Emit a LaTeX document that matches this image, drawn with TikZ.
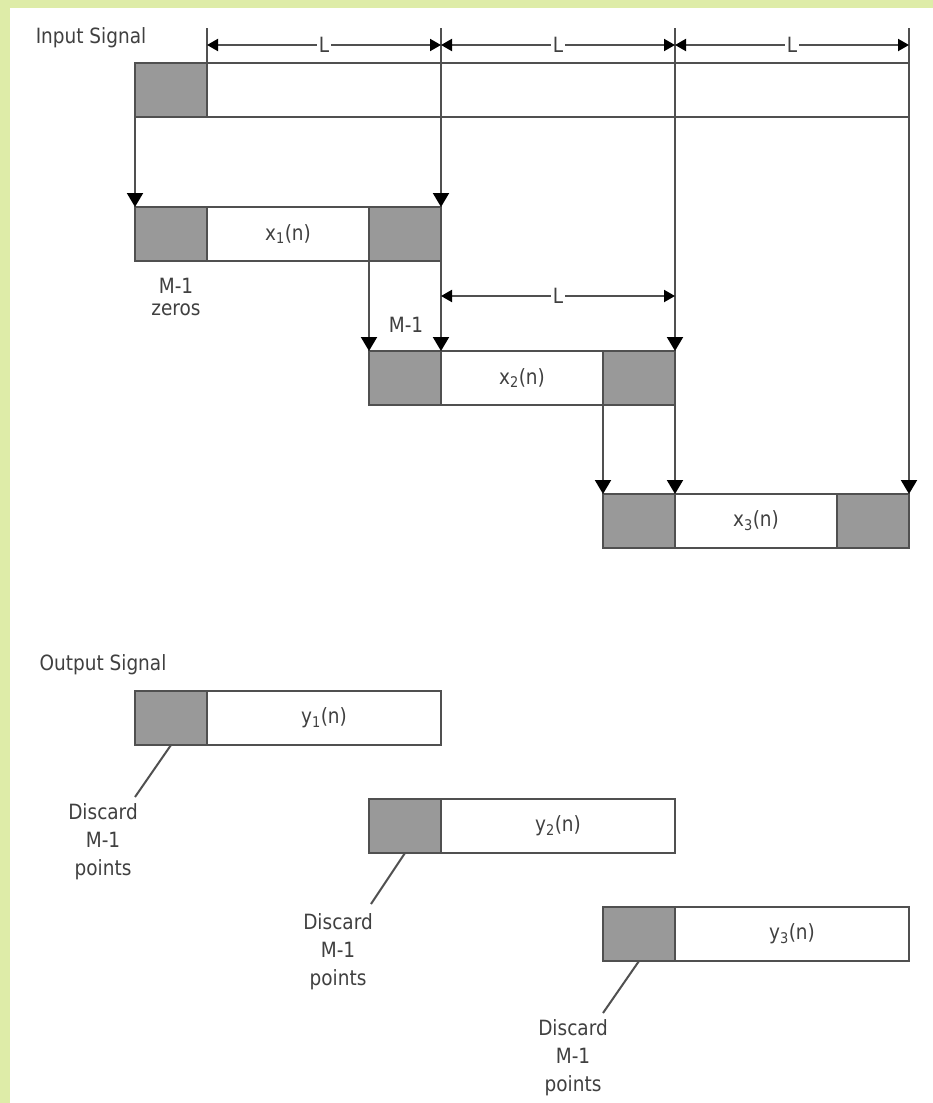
\documentclass[tikz,border=0pt]{standalone}
\usepackage{fontspec}
\newfontfamily\tah[FakeStretch=0.88]{DejaVu Sans}
\usetikzlibrary{arrows.meta}
\definecolor{bordergreen}{RGB}{222,236,168}
\definecolor{ln}{RGB}{80,80,80}
\definecolor{gfill}{RGB}{153,153,153}
\tikzset{
 box/.style={draw=ln,line width=2pt,inner sep=0pt,outer sep=0pt,minimum height=54pt,anchor=north west},
 gbox/.style={box,fill=gfill},
 wbox/.style={box,fill=white},
 lbl/.style={font=\tah\fontsize{21}{28}\selectfont,text=black!75,inner sep=1pt,align=center},
 arr/.style={draw=ln,line width=2pt,-{Triangle[length=14pt,width=16pt,color=black]}},
 dimline/.style={draw=ln,line width=2pt,{Triangle[length=11pt,width=12pt,color=black]}-{Triangle[length=11pt,width=12pt,color=black]}},
 guide/.style={draw=ln,line width=2pt},
}
\begin{document}
\begin{tikzpicture}[x=1pt,y=-1pt]
\useasboundingbox (0,0) rectangle (933,1103);
\fill[bordergreen] (0,0) rectangle (933,1103);
\fill[white] (10,8) rectangle (933,1103);

% guide tops
\coordinate (t1) at (207,28);
\coordinate (t2) at (441,28);
\coordinate (t3) at (675,28);
\coordinate (t4) at (909,28);

% input signal
\node[lbl] (inlbl) at (91,38) {Input Signal};
\node[gbox,minimum width=72pt] (in0) at (135,63) {};
\node[wbox,minimum width=702pt] (in1) at (207,63) {};

% x1
\node[gbox,minimum width=72pt] (x1a) at (135,207) {};
\node[wbox,minimum width=162pt] (x1b) at (207,207) {};
\node[gbox,minimum width=72pt] (x1c) at (369,207) {};
\node[lbl] at (x1b.center) {x\textsubscript{1}(n)};

% x2
\node[gbox,minimum width=72pt] (x2a) at (369,351) {};
\node[wbox,minimum width=162pt] (x2b) at (441,351) {};
\node[gbox,minimum width=72pt] (x2c) at (603,351) {};
\node[lbl] at (x2b.center) {x\textsubscript{2}(n)};

% x3
\node[gbox,minimum width=72pt] (x3a) at (603,494) {};
\node[wbox,minimum width=162pt] (x3b) at (675,494) {};
\node[gbox,minimum width=72pt] (x3c) at (837,494) {};
\node[lbl] at (x3b.center) {x\textsubscript{3}(n)};

% guides and arrows
\draw[guide] (t1) -- (in1.north west);
\draw[arr] (t2) -- (x1c.north east);
\draw[arr] (t3) -- (x2c.north east);
\draw[arr] (t4) -- (x3c.north east);
\draw[arr] (in0.south west) -- (x1a.north west);
\draw[arr] (x1c.south west) -- (x2a.north west);
\draw[arr] (x1c.south east) -- (x2a.north east);
\draw[arr] (x2c.south west) -- (x3a.north west);
\draw[arr] (x2c.south east) -- (x3a.north east);

% dimensions
\coordinate (d1) at (207,45);
\coordinate (d2) at (441,45);
\coordinate (d3) at (675,45);
\coordinate (d4) at (909,45);
\draw[dimline] (d1) -- node[lbl,fill=white,inner sep=2pt] {L} (d2);
\draw[dimline] (d2) -- node[lbl,fill=white,inner sep=2pt] {L} (d3);
\draw[dimline] (d3) -- node[lbl,fill=white,inner sep=2pt] {L} (d4);
\coordinate (e1) at (441,296);
\coordinate (e2) at (675,296);
\draw[dimline] (e1) -- node[lbl,fill=white,inner sep=2pt] {L} (e2);

\node[lbl,font=\tah\fontsize{21}{22}\selectfont] (zeros) at (176,297) {M-1\\zeros};
\node[lbl] (m1) at (406,325) {M-1};

% output signal
\node[lbl] (outlbl) at (103,665) {Output Signal};
\node[gbox,minimum width=72pt] (y1a) at (135,691) {};
\node[wbox,minimum width=234pt] (y1b) at (207,691) {};
\node[lbl] at (y1b.center) {y\textsubscript{1}(n)};
\node[gbox,minimum width=72pt] (y2a) at (369,799) {};
\node[wbox,minimum width=234pt] (y2b) at (441,799) {};
\node[lbl] at (y2b.center) {y\textsubscript{2}(n)};
\node[gbox,minimum width=72pt] (y3a) at (603,907) {};
\node[wbox,minimum width=234pt] (y3b) at (675,907) {};
\node[lbl] at (y3b.center) {y\textsubscript{3}(n)};

\node[lbl] (disc1) at (103,842) {Discard\\M-1\\points};
\node[lbl] (disc2) at (338,952) {Discard\\M-1\\points};
\node[lbl] (disc3) at (573,1058) {Discard\\M-1\\points};
\coordinate (c1) at (135,797);
\coordinate (c2) at (371,904);
\coordinate (c3) at (603,1013);
\draw[guide] (y1a.south) -- (c1);
\draw[guide] (y2a.south) -- (c2);
\draw[guide] (y3a.south) -- (c3);
\end{tikzpicture}
\end{document}
